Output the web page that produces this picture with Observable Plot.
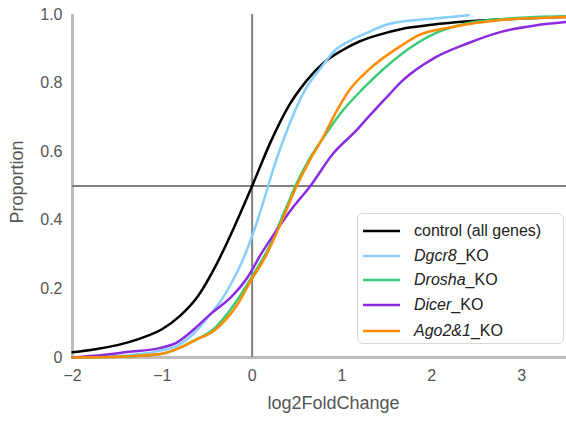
<!DOCTYPE html>
<html>
<head>
<meta charset="utf-8">
<script src="https://cdn.jsdelivr.net/npm/d3@7"></script>
<script src="https://cdn.jsdelivr.net/npm/@observablehq/plot@0.6"></script>
<style>
  html, body { margin: 0; padding: 0; background: #fff; }
  #wrap { position: relative; width: 566px; height: 421px; font-family: "Liberation Sans", Arial, sans-serif; }
  #legend { position: absolute; left: 357px; top: 213px; width: 207px; height: 131px; border: 1px solid #d8d8d8; border-radius: 6px; background: rgba(255,255,255,0.9); box-sizing: border-box; }
  .row { position: absolute; left: 0; height: 20px; display: flex; align-items: center; font-size: 16px; color: #222; white-space: nowrap; }
  .row svg { margin-left: 5px; margin-right: 14px; }
</style>
</head>
<body>
<div id="wrap"><div id="chart"></div><div id="legend"></div></div>
<script>
const seriesNames = ["control (all genes)", "Dgcr8_KO", "Drosha_KO", "Dicer_KO", "Ago2&1_KO"];
const seriesItalic = ["", "Dgcr8", "Drosha", "Dicer", "Ago2&1"];
const seriesColors = ["#000000", "#87cefa", "#3ccb78", "#8a2be2", "#ff8c00"];

const controlX = [-2, -1.75, -1.5, -1.25, -1.0, -0.8, -0.6, -0.4, -0.2, 0, 0.2, 0.4, 0.6, 0.8, 1.0, 1.2, 1.4, 1.665, 2.0, 2.41, 3.0, 3.5];
const controlY = [0.015, 0.024, 0.036, 0.055, 0.083, 0.122, 0.18, 0.27, 0.38, 0.50, 0.625, 0.73, 0.805, 0.86, 0.895, 0.922, 0.94, 0.958, 0.97, 0.98, 0.988, 0.993];

const dgcr8X = [-2, -1.5, -1.25, -1.02, -0.83, -0.65, -0.458, -0.346, -0.235, -0.123, 0.008, 0.175, 0.23, 0.4, 0.585, 0.77, 0.92, 1.1, 1.29, 1.53, 2.03, 2.41];
const dgcr8Y = [0.0, 0.004, 0.01, 0.02, 0.035, 0.07, 0.128, 0.166, 0.215, 0.273, 0.36, 0.497, 0.545, 0.67, 0.778, 0.846, 0.895, 0.925, 0.948, 0.973, 0.988, 0.998];

const droshaX = [-2, -1.5, -1.02, -0.64, -0.42, -0.16, 0.008, 0.175, 0.38, 0.5, 0.64, 0.79, 1.01, 1.22, 1.665, 2.03, 2.41, 2.8, 3.15, 3.5];
const droshaY = [0.0, 0.002, 0.01, 0.05, 0.085, 0.17, 0.24, 0.315, 0.438, 0.51, 0.58, 0.64, 0.72, 0.78, 0.885, 0.944, 0.975, 0.987, 0.993, 0.995];

const dicerX = [-2, -1.76, -1.39, -1.02, -0.83, -0.64, -0.458, -0.235, -0.05, 0.1, 0.27, 0.455, 0.64, 0.9, 1.16, 1.29, 1.52, 1.665, 2.04, 2.41, 2.78, 3.15, 3.5];
const dicerY = [0.0, 0.005, 0.016, 0.028, 0.045, 0.084, 0.128, 0.176, 0.234, 0.302, 0.37, 0.438, 0.497, 0.594, 0.662, 0.70, 0.765, 0.805, 0.875, 0.917, 0.95, 0.968, 0.978];

const agoX = [-2, -1.5, -1.02, -0.79, -0.64, -0.42, -0.16, 0.008, 0.12, 0.23, 0.35, 0.49, 0.64, 0.79, 0.94, 1.07, 1.29, 1.665, 1.85, 2.22, 2.78, 3.2, 3.5];
const agoY = [0.0, 0.002, 0.01, 0.03, 0.05, 0.079, 0.156, 0.234, 0.28, 0.338, 0.41, 0.497, 0.574, 0.642, 0.718, 0.775, 0.837, 0.91, 0.939, 0.963, 0.984, 0.99, 0.993];

const xTicks = [-2, -1, 0, 1, 2, 3];
const yTicks = [0, 0.2, 0.4, 0.6, 0.8, 1.0];
const xLabel = "log2FoldChange";
const yLabel = "Proportion";

const allX = [controlX, dgcr8X, droshaX, dicerX, agoX];
const allY = [controlY, dgcr8Y, droshaY, dicerY, agoY];
const rows = [];
allX.forEach((xs, i) => xs.forEach((x, j) => rows.push({series: seriesNames[i], x, y: allY[i][j]})));

const chart = Plot.plot({
  width: 566,
  height: 421,
  marginLeft: 72,
  marginRight: 0,
  marginTop: 14,
  marginBottom: 64,
  style: {fontFamily: "'Liberation Sans', Arial, sans-serif", fontSize: "16px", color: "#555", background: "#fff"},
  x: {domain: [-2, 3.5]},
  y: {domain: [0, 1]},
  color: {domain: seriesNames, range: seriesColors},
  marks: [
    Plot.ruleX([-2], {stroke: "#bdbdbd", strokeWidth: 3}),
    Plot.ruleY([0], {stroke: "#bdbdbd", strokeWidth: 3}),
    Plot.ruleX([0], {stroke: "#808080", strokeWidth: 2}),
    Plot.ruleY([0.5], {stroke: "#808080", strokeWidth: 2}),
    Plot.axisX({ticks: xTicks, tickSize: 0, tickPadding: 12, tickFormat: d3.format("d"), label: null, fontSize: 16}),
    Plot.axisY({ticks: yTicks, tickSize: 0, tickPadding: 10, tickFormat: d => d === 0 ? "0" : d.toFixed(1), label: null, fontSize: 16}),
    Plot.text([xLabel], {frameAnchor: "bottom", textAnchor: "middle", lineAnchor: "middle", dx: 14, dy: 46, fontSize: 18, fill: "#555"}),
    Plot.text([yLabel], {frameAnchor: "left", textAnchor: "middle", lineAnchor: "middle", dx: -55, dy: -4, rotate: -90, fontSize: 18, fill: "#555"}),
    Plot.line(rows, {x: "x", y: "y", z: "series", stroke: "series", strokeWidth: 2.5, curve: "monotone-x"})
  ]
});
document.getElementById("chart").appendChild(chart);

const legend = document.getElementById("legend");
const rowTops = [7, 32, 56, 81, 107];
seriesNames.forEach((name, i) => {
  const row = document.createElement("div");
  row.className = "row";
  row.style.top = rowTops[i] + "px";
  const it = seriesItalic[i];
  const label = it ? `<i>${it.replace("&", "&amp;")}</i>${name.slice(it.length)}` : name;
  row.innerHTML = `<svg width="37" height="4"><line x1="0" x2="37" y1="2" y2="2" stroke="${seriesColors[i]}" stroke-width="2.5"/></svg><span>${label}</span>`;
  legend.appendChild(row);
});
</script>
</body>
</html>
